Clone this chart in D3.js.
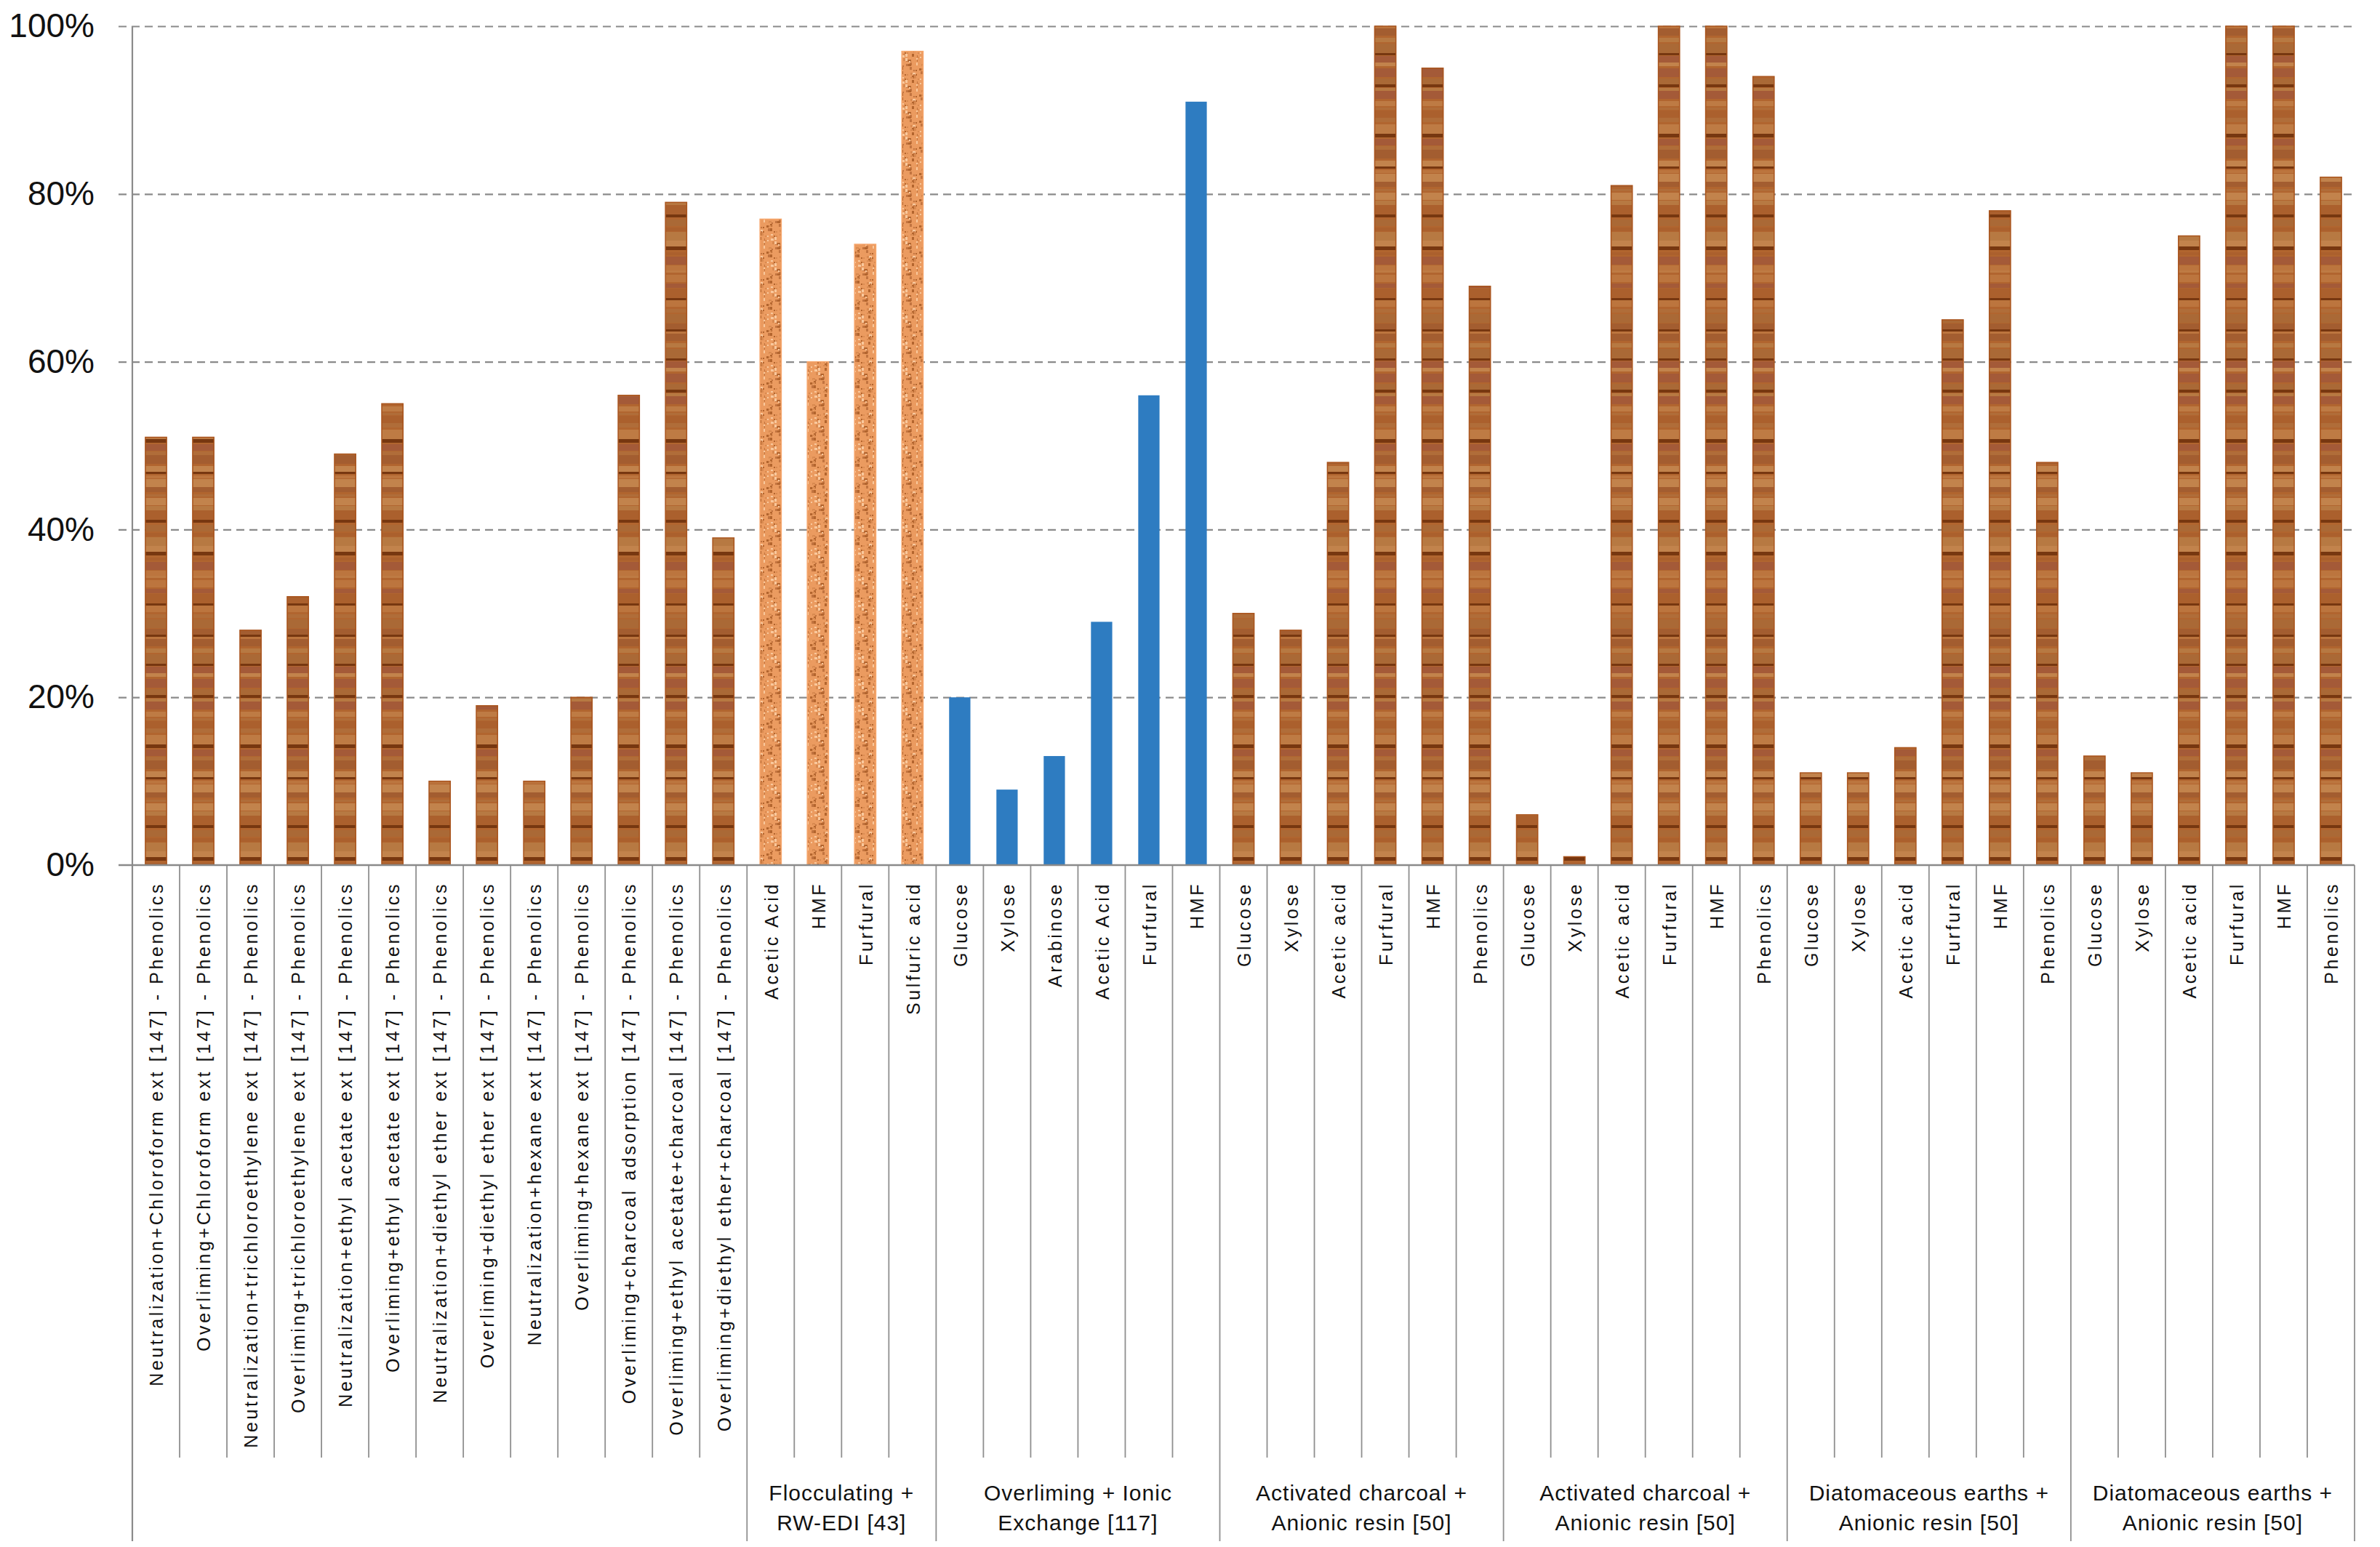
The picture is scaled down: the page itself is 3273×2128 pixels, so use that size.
<!DOCTYPE html>
<html>
<head>
<meta charset="utf-8">
<script src="https://cdn.jsdelivr.net/npm/d3@7"></script>
<style>
    body { margin: 0; background: #fff; }
    svg { display: block; font-family: "Liberation Sans", Arial, sans-serif; }
</style>
</head>
<body>
<svg width="3273" height="2128"></svg>
<script>
// data (% removal)
var groupNames = [
    [],
    ["Flocculating +", "RW-EDI [43]"],
    ["Overliming + Ionic", "Exchange [117]"],
    ["Activated charcoal +", "Anionic resin [50]"],
    ["Activated charcoal +", "Anionic resin [50]"],
    ["Diatomaceous earths +", "Anionic resin [50]"],
    ["Diatomaceous earths +", "Anionic resin [50]"]
];
var groupSizes = [13, 4, 6, 6, 6, 6, 6];
var groupFills = ["wood", "cork", "blue", "wood", "wood", "wood", "wood"];

var categories = [
    "Neutralization+Chloroform ext [147] - Phenolics",
    "Overliming+Chloroform ext [147] - Phenolics",
    "Neutralization+trichloroethylene ext [147] - Phenolics",
    "Overliming+trichloroethylene ext [147] - Phenolics",
    "Neutralization+ethyl acetate ext [147] - Phenolics",
    "Overliming+ethyl acetate ext [147] - Phenolics",
    "Neutralization+diethyl ether ext [147] - Phenolics",
    "Overliming+diethyl ether ext [147] - Phenolics",
    "Neutralization+hexane ext [147] - Phenolics",
    "Overliming+hexane ext [147] - Phenolics",
    "Overliming+charcoal adsorption [147] - Phenolics",
    "Overliming+ethyl acetate+charcoal [147] - Phenolics",
    "Overliming+diethyl ether+charcoal [147] - Phenolics",
    "Acetic Acid", "HMF", "Furfural", "Sulfuric acid",
    "Glucose", "Xylose", "Arabinose", "Acetic Acid", "Furfural", "HMF",
    "Glucose", "Xylose", "Acetic acid", "Furfural", "HMF", "Phenolics",
    "Glucose", "Xylose", "Acetic acid", "Furfural", "HMF", "Phenolics",
    "Glucose", "Xylose", "Acetic acid", "Furfural", "HMF", "Phenolics",
    "Glucose", "Xylose", "Acetic acid", "Furfural", "HMF", "Phenolics"
];
var removal = [
    51, 51, 28, 32, 49, 55, 10, 19, 10, 20, 56, 79, 39,
    77, 60, 74, 97,
    20, 9, 13, 29, 56, 91,
    30, 28, 48, 100, 95, 69,
    6, 1, 81, 100, 100, 94,
    11, 11, 14, 65, 78, 48,
    13, 11, 75, 100, 100, 82
];
var yTicks = [0, 20, 40, 60, 80, 100];

// texture tones (style only)
var woodTones = ["#c07a42", "#a95e2c", "#c88d55", "#b0703c", "#a0573a", "#b98048", "#9e5a30", "#c2834a", "#a86a38"];
var corkTones = ["#d98a50", "#c27440", "#f9c89c", "#b3652e", "#e99a5e"];

var svg, margin, width, height, xSlot, yScale, g, defs;

function initLayout() {
    svg = d3.select("svg");
    margin = {top: 36, right: 35, bottom: 938, left: 182};
    width = +svg.attr("width") - margin.left - margin.right;
    height = +svg.attr("height") - margin.top - margin.bottom;

    xSlot = d3.scaleBand().domain(d3.range(categories.length)).range([0, width]).padding(0);
    yScale = d3.scaleLinear().domain([0, 100]).range([height, 0]);

    g = svg.append("g")
        .attr("transform", "translate(" + margin.left + "," + margin.top + ")");
    defs = svg.append("defs");
}

function makePatterns() {
    // wood grain: soft horizontal bands with an occasional dark streak
    var wood = defs.append("pattern")
        .attr("id", "wood")
        .attr("patternUnits", "userSpaceOnUse")
        .attr("width", 60).attr("height", 420);
    wood.append("rect").attr("width", 60).attr("height", 420).attr("fill", "#b1652f");
    var y = 0, i = 0;
    while (y < 420) {
        var h = 3 + (i * 7) % 11;
        var c = woodTones[(i * 5 + (i * i) % 7) % woodTones.length];
        wood.append("rect").attr("x", 0).attr("y", y).attr("width", 60).attr("height", h)
            .attr("fill", c).attr("opacity", 0.75);
        if (i % 11 === 3 || i % 11 === 7) {
            wood.append("rect").attr("x", 0).attr("y", y + h).attr("width", 60).attr("height", 3 + i % 3)
                .attr("fill", "#6d2f0a").attr("opacity", 0.85);
            h += 3 + i % 3;
        }
        y += h + (i * 3) % 4;
        i++;
    }

    // cork: orange speckles
    var cork = defs.append("pattern")
        .attr("id", "cork")
        .attr("patternUnits", "userSpaceOnUse")
        .attr("width", 30).attr("height", 36);
    cork.append("rect").attr("width", 30).attr("height", 36).attr("fill", "#eb9b60");
    for (var k = 0; k < 52; k++) {
        cork.append("rect")
            .attr("x", (k * 37) % 30)
            .attr("y", (k * 53 + k * k * 3) % 36)
            .attr("width", 2 + k % 3)
            .attr("height", 2 + (k * 2) % 3)
            .attr("fill", corkTones[(k * 3) % corkTones.length]);
    }
}

function drawGrid() {
    var grid = d3.axisRight(yScale)
        .tickValues(yTicks.slice(1))
        .tickSize(width + 19)
        .tickFormat("");
    g.append("g")
        .attr("class", "grid")
        .attr("transform", "translate(-19,0)")
        .call(grid)
        .call(function (s) {
            s.select(".domain").remove();
            s.selectAll("line")
                .attr("stroke", "#8a8a8a")
                .attr("stroke-width", 2.2)
                .attr("stroke-dasharray", "11,7");
        });

    var yAxis = d3.axisLeft(yScale)
        .tickValues(yTicks)
        .tickSize(0)
        .tickPadding(52)
        .tickFormat(function (d) { return d + "%"; });
    g.append("g")
        .call(yAxis)
        .call(function (s) {
            s.select(".domain").remove();
            s.selectAll("text")
                .attr("font-family", "'Liberation Sans', Arial, sans-serif")
                .attr("font-size", 46)
                .attr("fill", "#111");
        });
}

function groupIndex(i) {
    var acc = 0;
    for (var k = 0; k < groupSizes.length; k++) {
        acc += groupSizes[k];
        if (i < acc) return k;
    }
    return groupSizes.length - 1;
}

function drawBars() {
    var barW = xSlot.bandwidth() * 0.45;
    var fills = {
        wood: {fill: "url(#wood)", stroke: "#a9541d"},
        cork: {fill: "url(#cork)", stroke: "#f6a56a"},
        blue: {fill: "#2e7cc1", stroke: "none"}
    };
    g.selectAll(".bar")
        .data(removal)
        .enter().append("rect")
        .attr("class", "bar")
        .attr("x", function (d, i) { return xSlot(i) + (xSlot.bandwidth() - barW) / 2; })
        .attr("y", function (d) { return yScale(d); })
        .attr("width", barW)
        .attr("height", function (d) { return yScale(0) - yScale(d); })
        .attr("fill", function (d, i) { return fills[groupFills[groupIndex(i)]].fill; })
        .attr("stroke", function (d, i) { return fills[groupFills[groupIndex(i)]].stroke; })
        .attr("stroke-width", 1.5);
}

function drawCategoryAxis() {
    var step = xSlot.step();
    var sepBottom = 2005 - margin.top;
    var groupBottom = 2120 - margin.top;

    // boundaries that start a new group
    var groupEdges = [0];
    groupSizes.reduce(function (a, n) { groupEdges.push(a + n); return a + n; }, 0);

    var edges = d3.range(categories.length + 1);
    g.selectAll(".sep")
        .data(edges)
        .enter().append("line")
        .attr("class", "sep")
        .attr("x1", function (i) { return i * step; })
        .attr("x2", function (i) { return i * step; })
        .attr("y1", height)
        .attr("y2", function (i) { return groupEdges.indexOf(i) >= 0 ? groupBottom : sepBottom; })
        .attr("stroke", "#8f8f8f")
        .attr("stroke-width", 1.8);

    // left value axis
    g.append("line")
        .attr("x1", 0).attr("x2", 0)
        .attr("y1", 0).attr("y2", groupBottom)
        .attr("stroke", "#8a8a8a").attr("stroke-width", 2.2);

    // zero line
    g.append("line")
        .attr("x1", -19).attr("x2", width)
        .attr("y1", height).attr("y2", height)
        .attr("stroke", "#8a8a8a").attr("stroke-width", 2.4);

    // category labels
    g.selectAll(".cat")
        .data(categories)
        .enter().append("text")
        .attr("class", "cat")
        .attr("transform", function (d, i) {
            return "translate(" + [xSlot(i) + xSlot.bandwidth() / 2 + 1, height + 23] + ") rotate(-90)";
        })
        .attr("dy", "0.35em")
        .attr("text-anchor", "end")
        .attr("font-size", 25)
        .attr("letter-spacing", "3.6px")
        .attr("fill", "#111")
        .text(function (d) { return d; });

    // group labels
    var start = 0;
    groupNames.forEach(function (lines, k) {
        var cx = (start + groupSizes[k] / 2) * step;
        lines.forEach(function (t, j) {
            g.append("text")
                .attr("x", cx)
                .attr("y", 2064 - margin.top + j * 41)
                .attr("text-anchor", "middle")
                .attr("font-size", 30)
                .attr("letter-spacing", "1px")
                .attr("fill", "#111")
                .text(t);
        });
        start += groupSizes[k];
    });
}

initLayout();
makePatterns();
drawGrid();
drawBars();
drawCategoryAxis();
</script>
</body>
</html>
